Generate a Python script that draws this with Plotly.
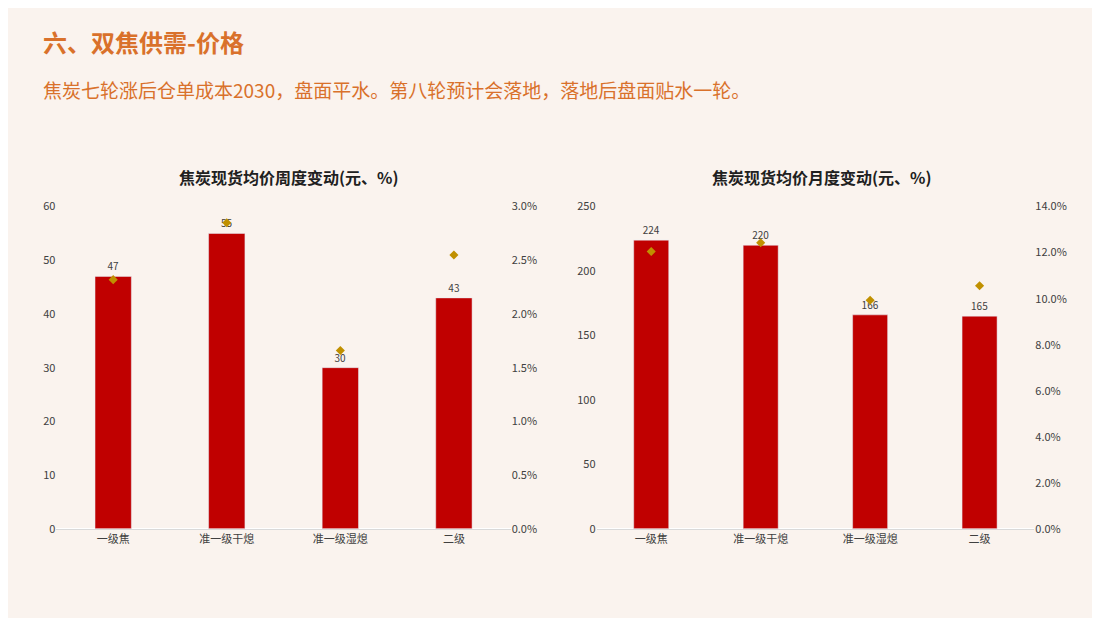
import plotly.graph_objects as go
from plotly.subplots import make_subplots

categories = ["一级焦", "准一级干熄", "准一级湿熄", "二级"]
weekly_change = [47, 55, 30, 43]
weekly_pct = [0.0232, 0.0285, 0.0166, 0.0255]
monthly_change = [224, 220, 166, 165]
monthly_pct = [0.1205, 0.1243, 0.0993, 0.1056]

BG = "#FAF3EE"
RED = "#C00000"
GOLD = "#C09000"
FONT = "Noto Sans CJK SC"

fig = make_subplots(rows=1, cols=2, specs=[[{"secondary_y": True}, {"secondary_y": True}]],
                    horizontal_spacing=0.08)

for col, vals, pcts in [(1, weekly_change, weekly_pct), (2, monthly_change, monthly_pct)]:
    fig.add_trace(go.Bar(x=categories, y=vals, marker_color=RED, width=0.32,
                         text=vals, textposition="outside",
                         textfont=dict(size=10, color="#404040"), cliponaxis=False,
                         showlegend=False), row=1, col=col, secondary_y=False)
    fig.add_trace(go.Scatter(x=categories, y=pcts, mode="markers",
                             marker=dict(symbol="diamond", size=7, color=GOLD),
                             showlegend=False), row=1, col=col, secondary_y=True)

tick_font = dict(size=11, color="#404040")
fig.update_layout(
    width=1100, height=618, paper_bgcolor=BG, plot_bgcolor=BG,
    font=dict(family=FONT), margin=dict(l=0, r=0, t=0, b=0),
    xaxis=dict(domain=[0.044, 0.457], tickfont=tick_font, showline=True, linecolor="#d9d9d9"),
    xaxis2=dict(domain=[0.535, 0.933], tickfont=tick_font, showline=True, linecolor="#d9d9d9"),
    yaxis=dict(domain=[0.15, 0.685], range=[0, 60], dtick=10, showgrid=False, tickfont=tick_font),
    yaxis2=dict(range=[0, 0.03], dtick=0.005, tickformat=".1%", showgrid=False, tickfont=tick_font),
    yaxis3=dict(domain=[0.15, 0.685], range=[0, 250], dtick=50, showgrid=False, tickfont=tick_font),
    yaxis4=dict(range=[0, 0.14], dtick=0.02, tickformat=".1%", showgrid=False, tickfont=tick_font),
    bargap=0.6,
)

fig.add_annotation(x=0.03, y=0.96, xref="paper", yref="paper", xanchor="left", yanchor="middle",
                   text="<b>六、双焦供需-价格</b>", showarrow=False,
                   font=dict(size=24, color="#D9712B", family=FONT))
fig.add_annotation(x=0.03, y=0.88, xref="paper", yref="paper", xanchor="left", yanchor="middle",
                   text="焦炭七轮涨后仓单成本2030，盘面平水。第八轮预计会落地，落地后盘面贴水一轮。",
                   showarrow=False, font=dict(size=19, color="#D9712B", family=FONT))
fig.add_annotation(x=0.255, y=0.735, xref="paper", yref="paper", xanchor="center", yanchor="middle",
                   text="<b>焦炭现货均价周度变动(元、%)</b>",
                   showarrow=False, font=dict(size=16, color="#202020", family=FONT))
fig.add_annotation(x=0.74, y=0.735, xref="paper", yref="paper", xanchor="center", yanchor="middle",
                   text="<b>焦炭现货均价月度变动(元、%)</b>",
                   showarrow=False, font=dict(size=16, color="#202020", family=FONT))

fig.write_html("out.html")
